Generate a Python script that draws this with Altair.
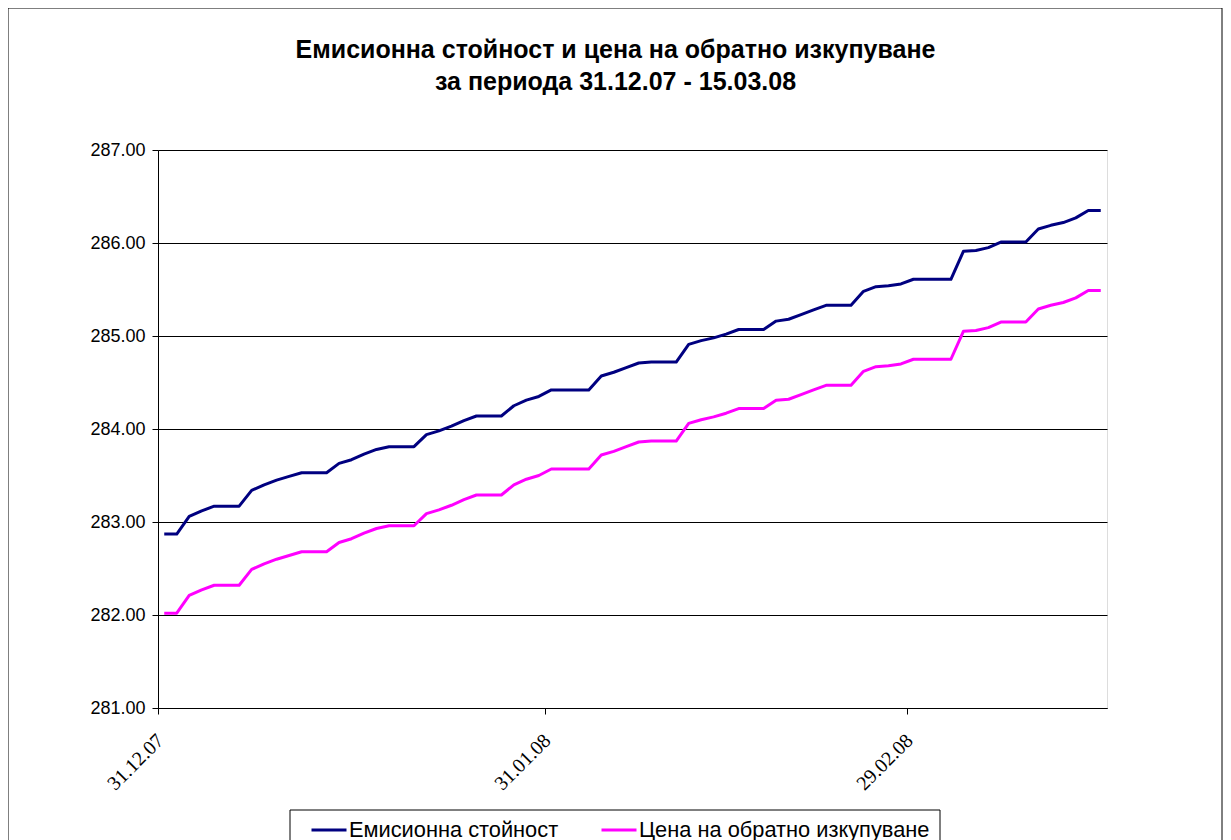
import altair as alt
import pandas as pd

# Daily dates (values placed mid-day, as in an Excel date axis)
dates = pd.date_range("2007-12-31 12:00", "2008-03-15 12:00", freq="D")

series_names = ["Емисионна стойност", "Цена на обратно изкупуване"]
series_colors = ["#000080", "#FF00FF"]

emission = [
    282.87, 282.87, 283.06, 283.12, 283.17, 283.17, 283.17, 283.34, 283.40, 283.45,
    283.49, 283.53, 283.53, 283.53, 283.63, 283.67, 283.73, 283.78, 283.81, 283.81,
    283.81, 283.94, 283.98, 284.03, 284.09, 284.14, 284.14, 284.14, 284.25, 284.31,
    284.35, 284.42, 284.42, 284.42, 284.42, 284.57, 284.61, 284.66, 284.71, 284.72,
    284.72, 284.72, 284.91, 284.95, 284.98, 285.02, 285.07, 285.07, 285.07, 285.16,
    285.18, 285.23, 285.28, 285.33, 285.33, 285.33, 285.48, 285.53, 285.54, 285.56,
    285.61, 285.61, 285.61, 285.61, 285.91, 285.92, 285.95, 286.01, 286.01, 286.01,
    286.15, 286.19, 286.22, 286.27, 286.35, 286.35,
]

redemption = [
    282.02, 282.02, 282.21, 282.27, 282.32, 282.32, 282.32, 282.49, 282.55, 282.60,
    282.64, 282.68, 282.68, 282.68, 282.78, 282.82, 282.88, 282.93, 282.96, 282.96,
    282.96, 283.09, 283.13, 283.18, 283.24, 283.29, 283.29, 283.29, 283.40, 283.46,
    283.50, 283.57, 283.57, 283.57, 283.57, 283.72, 283.76, 283.81, 283.86, 283.87,
    283.87, 283.87, 284.06, 284.10, 284.13, 284.17, 284.22, 284.22, 284.22, 284.31,
    284.32, 284.37, 284.42, 284.47, 284.47, 284.47, 284.62, 284.67, 284.68, 284.70,
    284.75, 284.75, 284.75, 284.75, 285.05, 285.06, 285.09, 285.15, 285.15, 285.15,
    285.29, 285.33, 285.36, 285.41, 285.49, 285.49,
]

y_ticks = [281, 282, 283, 284, 285, 286, 287]
x_tick_dates = [(2007, 12, 31), (2008, 1, 31), (2008, 2, 29)]
x_domain = [(2007, 12, 31), (2008, 3, 16)]

title_lines = [
    "Емисионна стойност и цена на обратно изкупуване",
    "за периода 31.12.07 - 15.03.08",
]

n = len(dates)
df = pd.DataFrame({
    "date": list(dates) * 2,
    "value": emission + redemption,
    "series": [series_names[0]] * n + [series_names[1]] * n,
})

SANS = "Liberation Sans, Arial"
SERIF = "Liberation Serif, Times New Roman"

def dt(t):
    return alt.DateTime(year=t[0], month=t[1], date=t[2])

lines = alt.Chart(df).mark_line(strokeWidth=3, strokeJoin="round").encode(
    x=alt.X(
        "date:T",
        title=None,
        scale=alt.Scale(domain=[dt(d) for d in x_domain]),
        axis=alt.Axis(
            values=[dt(d) for d in x_tick_dates],
            format="%d.%m.%y",
            labelAngle=-45,
            labelAlign="right",
            labelBaseline="top",
            labelFont=SERIF,
            labelFontSize=20,
            labelColor="black",
            labelPadding=16,
            labelOffset=-5,
            tickSize=6,
            tickColor="black",
            domainColor="black",
            grid=False,
            labelOverlap=False,
        ),
    ),
    y=alt.Y(
        "value:Q",
        title=None,
        scale=alt.Scale(domain=[281, 287], nice=False, zero=False),
        axis=alt.Axis(
            values=y_ticks,
            format=".2f",
            labelFont=SANS,
            labelFontSize=18,
            labelColor="black",
            labelPadding=7,
            tickSize=6,
            tickColor="black",
            domainColor="black",
            grid=True,
            gridColor="black",
            gridWidth=1,
        ),
    ),
    color=alt.Color(
        "series:N",
        scale=alt.Scale(domain=series_names, range=series_colors),
        legend=alt.Legend(
            title=None,
            orient="none",
            legendX=152,
            legendY=661,
            direction="horizontal",
            padding=0,
            symbolType="stroke",
            symbolSize=1225,
            symbolStrokeWidth=3,
            labelFont=SANS,
            labelFontSize=21.8,
            labelColor="black",
            labelOffset=1,
            columnPadding=36,
            labelLimit=400,
        ),
    ),
)

frame_df = pd.DataFrame({"k": [0]})
frame = alt.Chart(frame_df).mark_rect(
    fill="transparent", stroke="black", strokeWidth=1
).encode(
    x=alt.value(-150), x2=alt.value(1064), y=alt.value(-142), y2=alt.value(730)
)

legend_box = alt.Chart(frame_df).mark_rect(
    fill="white", stroke="black", strokeWidth=1
).encode(
    x=alt.value(132), x2=alt.value(782), y=alt.value(660), y2=alt.value(730)
)

chart = alt.layer(frame, legend_box, lines).properties(
    width=949,
    height=558,
    autosize=alt.AutoSizeParams(type="none"),
    padding={"left": 150, "top": 142, "right": 116, "bottom": 150},
    title=alt.TitleParams(
        text=title_lines,
        font=SANS,
        fontSize=25,
        fontWeight="bold",
        color="black",
        anchor="middle",
        dx=-17,
        offset=-87,
        lineHeight=32,
    ),
).configure_view(
    stroke="#808080", strokeWidth=1.5
).configure(background="white")

chart.save("out.html", embed_options={"renderer": "svg", "actions": False})
